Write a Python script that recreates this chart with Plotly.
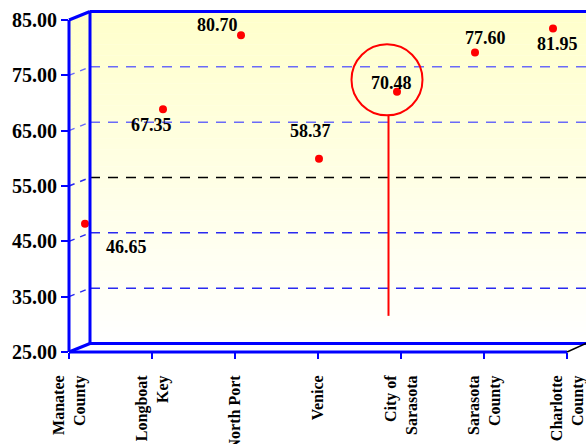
import plotly.graph_objects as go

# ---- data -------------------------------------------------------------
categories = ["Manatee<br>County", "Longboat<br>Key", "North Port", "Venice",
              "City of<br>Sarasota", "Sarasota<br>County", "Charlotte<br>County"]
values = [46.65, 67.35, 80.70, 58.37, 70.48, 77.60, 81.95]
y_ticks = [25, 35, 45, 55, 65, 75, 85]
highlight_index = 4      # City of Sarasota gets the callout
highlight_floor = 30     # foot of the callout drop line

# ---- geometry / style -------------------------------------------------
W, H = 586, 444
L, T, B, R = 69, 19.5, 92, 0
PW, PH = W - L - R, H - T - B
Y_MIN, Y_MAX = 25, 85
CAT_STEP = 83                 # px between categories on the front floor
DX, DY = 21, 8.5              # depth offset of the back wall (px)
DOT_X0, DOT_STEP = 16, 78     # horizontal placement of the markers (px)
PX_PER_UNIT = PH / (Y_MAX - Y_MIN)
BLUE = "#0000FF"
FONT = "Liberation Serif, Times New Roman, serif"

# value label offsets from their marker (px, y up)
label_shifts = [(41, -23), (-12, -16), (-24, 10), (-9, 28), (-6, 9), (10, 14), (4, -16)]


def px(xp):
    return (xp - L) / PW


def py(yp):
    return (H - B - yp) / PH


def y_front(v):
    return T + (Y_MAX - v) * PX_PER_UNIT


def y_back(v):
    return y_front(v) - DY


x_front, x_back, x_right = L, L + DX, W
x_floor_end = L + (len(categories) - 1) * CAT_STEP

shapes = []

# wall shading: pale yellow at the top fading to white
n_bands = 60
for k in range(n_bands):
    a = Y_MIN + (Y_MAX - Y_MIN) * k / n_bands
    b = min(Y_MIN + (Y_MAX - Y_MIN) * (k + 1) / n_bands + 0.05, Y_MAX)
    t = (k + 0.5) / n_bands
    col = "rgb(255,255,%d)" % round(255 - 52 * t)
    path = ("M %f,%f L %f,%f L %f,%f L %f,%f L %f,%f L %f,%f Z" % (
        px(x_front), py(y_front(b)), px(x_back), py(y_back(b)),
        px(x_right), py(y_back(b)), px(x_right), py(y_back(a)),
        px(x_back), py(y_back(a)), px(x_front), py(y_front(a))))
    shapes.append(dict(type="path", xref="paper", yref="paper", path=path,
                       fillcolor=col, line=dict(width=0), layer="below"))

# dashed grid on back wall and side wall
for v in y_ticks[1:-1]:
    side_col = "#6A6AF8" if v >= 65 else "#2A2AF0"
    back_col = "#000000" if v == 55 else side_col
    shapes.append(dict(type="line", xref="paper", yref="paper",
                       x0=px(x_back), y0=py(y_back(v)), x1=px(x_right), y1=py(y_back(v)),
                       line=dict(color=back_col, width=1.5, dash="10px,8px"), layer="below"))
    shapes.append(dict(type="line", xref="paper", yref="paper",
                       x0=px(x_front), y0=py(y_front(v)), x1=px(x_back), y1=py(y_back(v)),
                       line=dict(color=side_col, width=1.5, dash="6px,6px"), layer="below"))

# box frame
frame = [
    ((x_front, y_front(Y_MAX)), (x_front, y_front(Y_MIN))),
    ((x_back, y_back(Y_MAX)), (x_back, y_back(Y_MIN))),
    ((x_back, y_back(Y_MAX)), (x_right, y_back(Y_MAX))),
    ((x_front, y_front(Y_MAX)), (x_back, y_back(Y_MAX))),
    ((x_front, y_front(Y_MIN)), (x_back, y_back(Y_MIN))),
    ((x_back, y_back(Y_MIN)), (x_right, y_back(Y_MIN))),
    ((x_front, y_front(Y_MIN)), (x_floor_end, y_front(Y_MIN))),
]
for (xa, ya), (xb, yb) in frame:
    shapes.append(dict(type="line", xref="paper", yref="paper",
                       x0=px(xa), y0=py(ya), x1=px(xb), y1=py(yb),
                       line=dict(color=BLUE, width=3), layer="above"))
shapes.append(dict(type="line", xref="paper", yref="paper",
                   x0=px(x_floor_end), y0=py(y_front(Y_MIN)), x1=px(x_right), y1=py(y_back(Y_MIN)),
                   line=dict(color="#000000", width=1.5), layer="above"))

# callout around the highlighted point
hv = values[highlight_index]
cx, cy, cr = -10, 12, 35.5
shapes.append(dict(type="circle", xref="x2", yref="y2", xsizemode="pixel", ysizemode="pixel",
                   xanchor=highlight_index, yanchor=hv,
                   x0=cx - cr, x1=cx + cr, y0=cy - cr, y1=cy + cr,
                   line=dict(color="#FF0000", width=2), layer="above"))
shapes.append(dict(type="line", xref="x2", yref="y2", xsizemode="pixel",
                   xanchor=highlight_index, x0=cx + 1.5, x1=cx + 1.5,
                   y0=highlight_floor, y1=hv + (cy - cr) / PX_PER_UNIT,
                   line=dict(color="#FF0000", width=2), layer="above"))

fig = go.Figure()
# empty trace so the category / value axes are laid out and drawn
fig.add_trace(go.Scatter(x=[None], y=[None], mode="markers", hoverinfo="skip",
                         showlegend=False))
fig.add_trace(go.Scatter(
    x=list(range(len(values))), y=values, xaxis="x2", yaxis="y2",
    mode="markers", marker=dict(color="#FF0000", size=8), hoverinfo="skip",
))

annotations = []
for i, (v, (sx, sy)) in enumerate(zip(values, label_shifts)):
    annotations.append(dict(x=i, y=v, xref="x2", yref="y2", text="%.2f" % v,
                            showarrow=False, xshift=sx, yshift=sy,
                            font=dict(family=FONT, size=18, color="#000000", weight="bold")))

depth_units = DY / PX_PER_UNIT
x2_lo = -DOT_X0 / DOT_STEP
fig.update_layout(
    width=W, height=H, autosize=False,
    margin=dict(l=L, r=R, t=T, b=B, pad=0, autoexpand=False),
    paper_bgcolor="white", plot_bgcolor="rgba(0,0,0,0)",
    showlegend=False,
    shapes=shapes, annotations=annotations,
    xaxis=dict(range=[0, PW / CAT_STEP], tickmode="array",
               tickvals=list(range(len(categories))), ticktext=categories,
               tickangle=-90, ticks="outside", ticklen=6, tickwidth=2, tickcolor=BLUE,
               ticklabelstandoff=10, ticklabeloverflow="allow", automargin=False,
               showgrid=False, zeroline=False, showline=False,
               tickfont=dict(family=FONT, size=16, color="#000000", weight="bold")),
    yaxis=dict(range=[Y_MIN, Y_MAX], tickmode="array", tickvals=y_ticks,
               ticktext=["%.2f" % v for v in y_ticks], automargin=False,
               ticks="outside", ticklen=7, tickwidth=2, tickcolor=BLUE,
               showgrid=False, zeroline=False, showline=False,
               tickfont=dict(family=FONT, size=20, color="#000000", weight="bold")),
    xaxis2=dict(overlaying="x", anchor="y2", visible=False,
                range=[x2_lo, x2_lo + PW / DOT_STEP]),
    yaxis2=dict(overlaying="y", anchor="x2", visible=False,
                range=[Y_MIN - depth_units, Y_MAX - depth_units]),
)

fig.write_html("out.html", config={"displayModeBar": False})
